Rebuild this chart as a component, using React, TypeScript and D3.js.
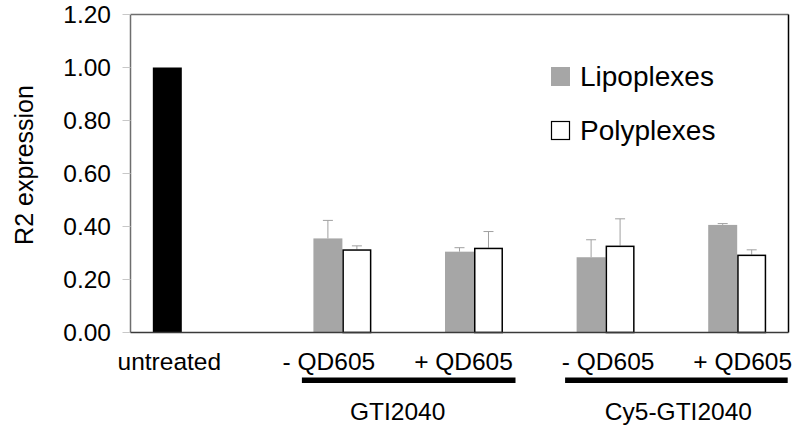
import React from "react";
import * as d3 from "d3";

const categories = ["untreated", "- QD605", "+ QD605", "- QD605 ", "+ QD605 "];
const seriesNames = ["untreated", "Lipoplexes", "Polyplexes"];
const untreatedValues = [1.0, 0, 0, 0, 0];
const lipoValues = [0, 0.355, 0.305, 0.284, 0.406];
const lipoErr = [0, 0.068, 0.015, 0.066, 0.005];
const polyValues = [0, 0.314, 0.32, 0.328, 0.294];
const polyErr = [0, 0.013, 0.061, 0.101, 0.018];
const yTicks = [0, 0.2, 0.4, 0.6, 0.8, 1.0, 1.2];
const groupLabels = [
  { label: "GTI2040", from: 1, to: 2 },
  { label: "Cy5-GTI2040", from: 3, to: 4 },
];

const W = 799;
const H = 433;
const M = { left: 130.5, right: 788.5, top: 14.5, bottom: 332.5 };
const FONT = "'Liberation Sans', Arial, Helvetica, sans-serif";
const FS = 24.5;
// per-label horizontal nudges (layout only)
const LABEL_NUDGE = [0, 1, 4, 17, 20];

export default function App() {
  const x = d3.scaleBand<string>().domain(categories).range([M.left, M.right]).paddingInner(0).paddingOuter(0);
  const y = d3.scaleLinear().domain([0, 1.2]).range([M.bottom, M.top]);
  const bw = x.bandwidth();
  const barW = bw / (3 + 1.54);
  const clusterStart = (i: number) => (x(categories[i]) as number) + bw / 2 - (barW * 3) / 2;
  const series = [
    { name: seriesNames[0], values: untreatedValues, err: null as number[] | null, fill: "#000", stroke: "none" },
    { name: seriesNames[1], values: lipoValues, err: lipoErr, fill: "#a6a6a6", stroke: "none" },
    { name: seriesNames[2], values: polyValues, err: polyErr, fill: "#fff", stroke: "#000" },
  ];

  return (
    <svg width={W} height={H} style={{ position: "absolute", left: 0, top: 0 }} fontFamily={FONT}>
      <rect x={0} y={0} width={W} height={H} fill="#fff" />
      <line x1={M.left} x2={M.right} y1={M.top} y2={M.top} stroke="#6e6e6e" strokeWidth={1.5} />
      <line x1={M.left} x2={M.left} y1={M.top} y2={M.bottom} stroke="#6e6e6e" strokeWidth={1.5} />
      <line x1={M.right} x2={M.right} y1={M.top} y2={M.bottom} stroke="#000" strokeWidth={1.5} />
      {yTicks.map((t) => (
        <g key={t}>
          <line x1={M.left - 8} x2={M.left} y1={y(t)} y2={y(t)} stroke="#c8c8c8" strokeWidth={1} />
          <text x={111} y={y(t)} dy="0.36em" textAnchor="end" fontSize={FS} fill="#000">
            {t.toFixed(2)}
          </text>
        </g>
      ))}
      <text transform="translate(33,165) rotate(-90)" textAnchor="middle" fontSize={25} fill="#000">
        R2 expression
      </text>
      {series.map((s, si) =>
        s.values.map((v, i) => {
          if (v <= 0) return null;
          const bx = clusterStart(i) + si * barW;
          const top = y(v);
          const isWhite = s.stroke !== "none";
          return (
            <g key={`${si}-${i}`}>
              {s.err && (
                <g stroke="#a0a0a0" strokeWidth={1}>
                  <line x1={bx + barW / 2} x2={bx + barW / 2} y1={top} y2={y(v + s.err[i])} />
                  <line x1={bx + barW / 2 - 5} x2={bx + barW / 2 + 5} y1={y(v + s.err[i])} y2={y(v + s.err[i])} />
                </g>
              )}
              <rect
                x={isWhite ? bx + 0.75 : bx}
                y={isWhite ? top + 0.75 : top}
                width={isWhite ? barW - 1.5 : barW}
                height={isWhite ? M.bottom - top - 0.75 : M.bottom - top}
                fill={s.fill}
                stroke={s.stroke}
                strokeWidth={1.5}
              />
            </g>
          );
        })
      )}
      <line x1={M.left} x2={M.right} y1={M.bottom} y2={M.bottom} stroke="#3a3a3a" strokeWidth={1.5} />
      {categories.map((c, i) => {
        const cx = i === 0 ? clusterStart(0) + barW / 2 + 2 : (x(c) as number) + bw / 2 + LABEL_NUDGE[i];
        return (
          <text key={i} x={cx} y={370} textAnchor="middle" fontSize={FS} fill="#000">
            {c.trim()}
          </text>
        );
      })}
      {groupLabels.map((g, gi) => {
        const x0 = (x(categories[g.from]) as number) + bw / 2 - 26;
        const x1 = (x(categories[g.to]) as number) + bw / 2 + (gi === 0 ? 56 : 65);
        const tx = gi === 0 ? (x0 + x1) / 2 - 11 : (x0 + x1) / 2 + 2;
        return (
          <g key={g.label}>
            <rect x={x0} y={377.5} width={x1 - x0} height={5.5} fill="#000" />
            <text x={tx} y={420} textAnchor="middle" fontSize={FS} fill="#000">
              {g.label}
            </text>
          </g>
        );
      })}
      <rect x={551} y={67} width={19} height={19} fill="#a6a6a6" />
      <text x={580} y={85.5} fontSize={28} fill="#000">Lipoplexes</text>
      <rect x={551.5} y={121.5} width={18} height={18} fill="#fff" stroke="#000" strokeWidth={1.2} />
      <text x={580} y={139.5} fontSize={28} fill="#000">Polyplexes</text>
    </svg>
  );
}
